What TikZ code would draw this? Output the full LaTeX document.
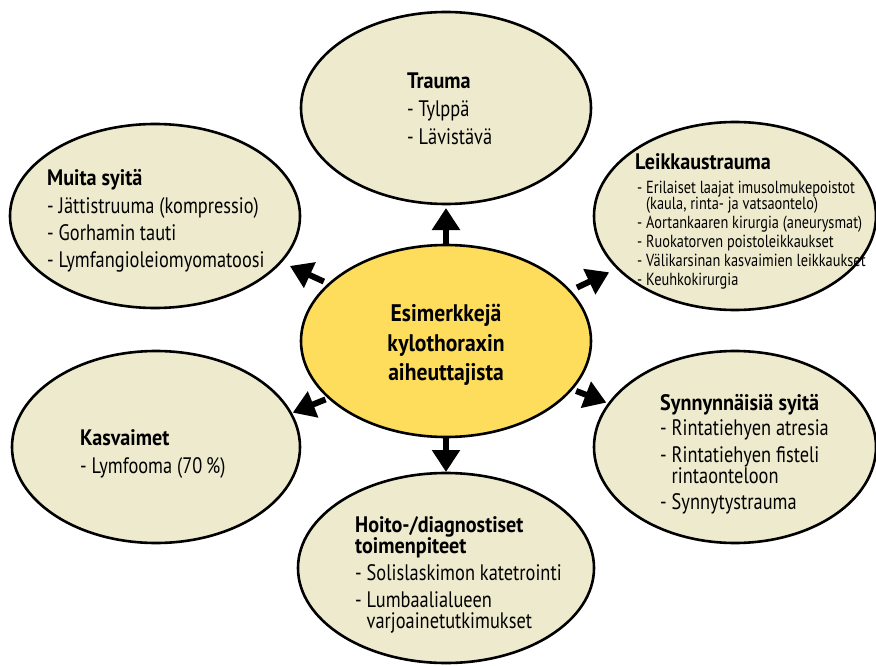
\documentclass[tikz,border=0pt]{standalone}
\usepackage{fontspec}
\setmainfont[FakeStretch=0.82,BoldFeatures={FakeStretch=0.9}]{PT Sans}
\usetikzlibrary{shapes.geometric,arrows.meta}
\definecolor{beige}{RGB}{238,234,206}
\definecolor{gold}{RGB}{254,220,92}
\newcommand\bodystrut{\rule{0pt}{18pt}}
\newcommand\smallstrut{\rule{0pt}{14pt}}
\newcommand\hubstrut{\rule{0pt}{21pt}}
\begin{document}
\lineskiplimit=-30pt\relax
\begin{tikzpicture}[x=1pt,y=-1pt,
  bubble/.style={ellipse,draw=black,line width=2.6pt,fill=beige,inner sep=0pt,outer sep=0pt},
  hub/.style={bubble,fill=gold},
  txt/.style={anchor=north west,inner sep=0pt,align=left,font=\fontsize{22.4}{21}\selectfont},
  smalltxt/.style={anchor=north west,inner sep=0pt,align=left,font=\fontsize{17.5}{16.5}\selectfont},
  hubtxt/.style={anchor=north,inner sep=0pt,align=center,font=\fontsize{24}{29.5}\selectfont\bfseries},
  arr/.style={line width=6pt,-{Triangle[length=22pt,width=27pt]}}]
\useasboundingbox (0,0) rectangle (876,666);
% ellipses
\node[hub,minimum width=290pt,minimum height=192pt] (C) at (446,341) {};
\node[bubble,minimum width=290pt,minimum height=192pt] (T) at (446,108) {};
\node[bubble,minimum width=290pt,minimum height=184pt] (M) at (155,216) {};
\node[bubble,minimum width=282pt,minimum height=188pt] (L) at (735,216) {};
\node[bubble,minimum width=288pt,minimum height=192pt] (K) at (156,447) {};
\node[bubble,minimum width=282pt,minimum height=192pt] (S) at (735,447) {};
\node[bubble,minimum width=296pt,minimum height=190pt] (H) at (446,568) {};
% texts
\node[hubtxt] (tC) at (446,300.7) {\hubstrut Esimerkkejä\\kylothoraxin\\aiheuttajista};
\node[txt] (tT) at (407,70) {\bodystrut\textbf{Trauma}\\[7.5pt]- Tylppä\\[7pt]- Lävistävä};
\node[txt] (tM) at (47,167) {\bodystrut\textbf{Muita syitä}\\[7pt]- Jättistruuma (kompressio)\\[6pt]- Gorhamin tauti\\[6pt]- Lymfangioleiomyomatoosi};
\node[txt] (tL) at (635,151) {\bodystrut\textbf{Leikkaustrauma}};
\node[smalltxt] (tL2) at (637,179) {\smallstrut- Erilaiset laajat imusolmukepoistot\\\hphantom{- }(kaula, rinta- ja vatsaontelo)\\[2.5pt]- Aortankaaren kirurgia (aneurysmat)\\[2.5pt]- Ruokatorven poistoleikkaukset\\[2.5pt]- Välikarsinan kasvaimien leikkaukset\\[2.5pt]- Keuhkokirurgia};
\node[txt] (tK) at (80,427) {\bodystrut\textbf{Kasvaimet}\\[7pt]- Lymfooma (70\,\%)};
\node[txt] (tS) at (660,392) {\bodystrut\textbf{Synnynnäisiä syitä}\\[4pt]- Rintatiehyen atresia\\[6pt]- Rintatiehyen fisteli\\\hphantom{- }rintaonteloon\\[5pt]- Synnytystrauma};
\node[txt] (tH) at (355,514) {\bodystrut\textbf{Hoito-/diagnostiset}\\\textbf{toimenpiteet}\\[6pt]- Solislaskimon katetrointi\\[6pt]- Lumbaalialueen\\\hphantom{- }varjoainetutkimukset};
% arrows
\draw[arr,shorten >=4pt] (C.90) -- (T.-90);
\draw[arr,shorten >=1pt] (C.-90) -- (H.90);
\draw[arr,shorten <=6pt,shorten >=10pt] (C.154) -- (M.-20.7);
\draw[arr,shorten <=8pt,shorten >=9.5pt] (C.22.4) -- (L.204.7);
\draw[arr,shorten <=4pt,shorten >=2pt] (C.206) -- (K.14.3);
\draw[arr,shorten <=5pt,shorten >=3pt] (C.-21.6) -- (S.161.7);
\end{tikzpicture}
\end{document}
